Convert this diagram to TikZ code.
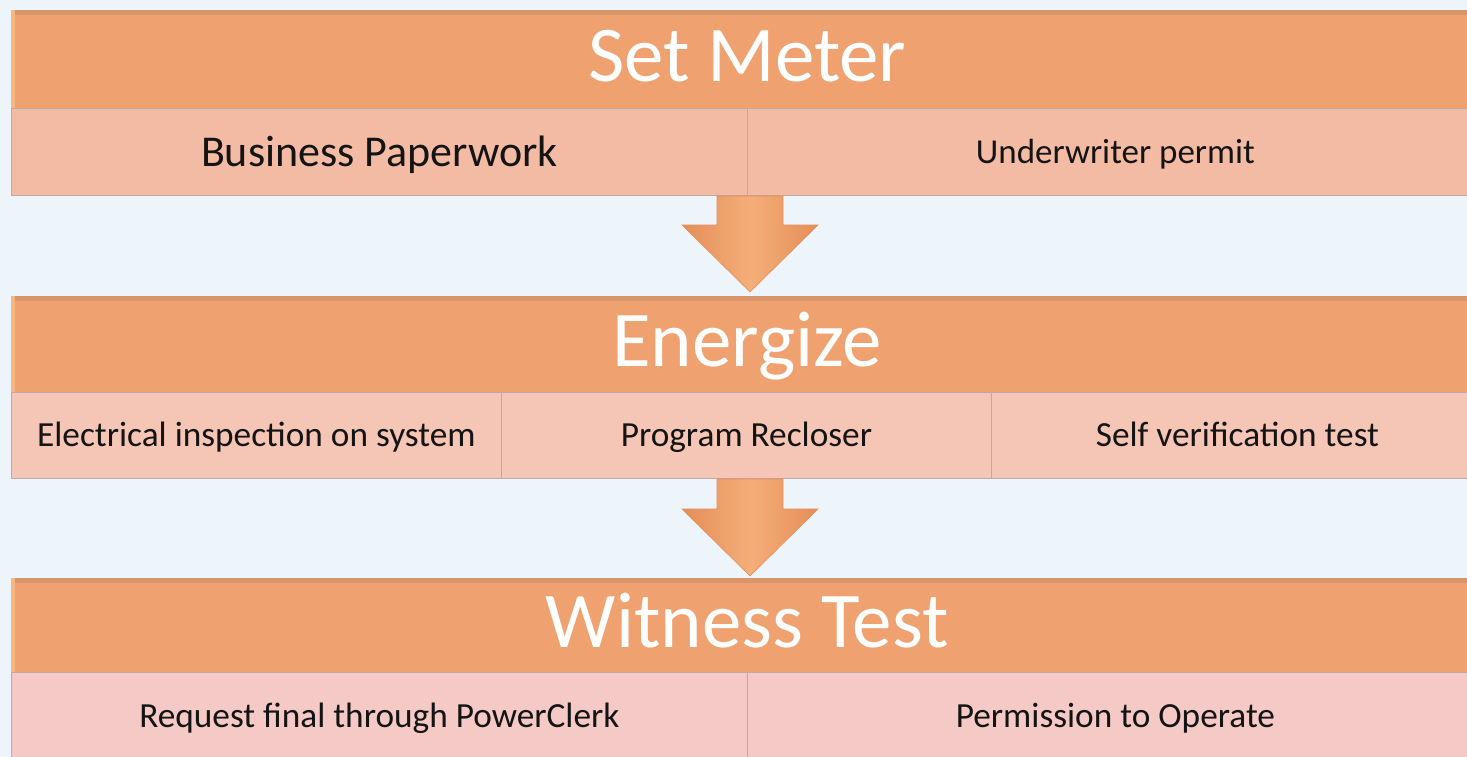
\documentclass[tikz,border=0pt]{standalone}
\usepackage{fontspec}
\setmainfont{Carlito}
\usetikzlibrary{calc}
\definecolor{bgc}{HTML}{EEF5FA}
\definecolor{barc}{HTML}{F0A170}
\definecolor{bartop}{HTML}{D8946A}
\definecolor{barleft}{HTML}{F7B780}
\definecolor{subA}{HTML}{F4BBA4}
\definecolor{subB}{HTML}{F5C5B5}
\definecolor{subC}{HTML}{F5C9C5}
\definecolor{edgec}{HTML}{BFA9A3}
\definecolor{arrc}{HTML}{F5AE78}
\definecolor{arrd}{HTML}{E48E58}
\tikzset{
  bar/.style={anchor=north west, inner sep=0pt, fill=barc, text=white,
    font=\fontsize{79}{82}\selectfont, minimum height=#1,
    text height=44pt, text depth=0pt},
  subbox/.style={anchor=north west, inner sep=0pt, draw=edgec, line width=0.8pt,
    text=black!92, minimum height=87pt, text height=22.7pt, text depth=0pt},
  subfont/.style={font=\fontsize{35.3}{38}\selectfont},
  blockarrow/.style={left color=arrd, right color=arrd, middle color=arrc,
    draw=arrd, line width=0.6pt, line join=miter},
}
\begin{document}
\begin{tikzpicture}[x=1pt,y=-1pt]
\useasboundingbox (0,0) rectangle (1467,757);
\clip (0,0) rectangle (1467,757);
\fill[bgc] (0,0) rectangle (1467,757);

% ---- row 1
\node[bar=98pt, minimum width=1472pt] (t1) at (11,10) {Set Meter};
\fill[bartop] (t1.north west) rectangle ($(t1.north east)+(0,5)$);
\fill[barleft] (t1.north west) rectangle ($(t1.south west)+(4,0)$);
\node[subbox, fill=subA, minimum width=736pt, font=\fontsize{44}{46}\selectfont, text height=28.3pt] (s11) at (11,108) {Business Paperwork};
\node[subbox, fill=subA, minimum width=736pt, font=\fontsize{35}{38}\selectfont] (s12) at (747,108) {Underwriter permit};

% ---- row 2
\node[bar=96pt, minimum width=1472pt] (t2) at (11,296) {Energize};
\fill[bartop] (t2.north west) rectangle ($(t2.north east)+(0,5)$);
\fill[barleft] (t2.north west) rectangle ($(t2.south west)+(4,0)$);
\node[subbox, fill=subB, subfont, minimum width=490pt, minimum height=86pt] (s21) at (11,392) {Electrical inspection on system};
\node[subbox, fill=subB, subfont, minimum width=490pt, minimum height=86pt] (s22) at (501,392) {Program Recloser};
\node[subbox, fill=subB, subfont, minimum width=492pt, minimum height=86pt] (s23) at (991,392) {Self verification test};

% ---- row 3
\node[bar=94pt, minimum width=1472pt] (t3) at (11,578) {Witness Test};
\fill[bartop] (t3.north west) rectangle ($(t3.north east)+(0,5)$);
\fill[barleft] (t3.north west) rectangle ($(t3.south west)+(4,0)$);
\node[subbox, fill=subC, subfont, minimum width=736pt] (s31) at (11,672) {Request final through PowerClerk};
\node[subbox, fill=subC, subfont, minimum width=736pt] (s32) at (747,672) {Permission to Operate};

% ---- arrows
\coordinate (a1s) at (750,196);
\coordinate (a1e) at (750,292);
\coordinate (a2s) at (750,479);
\coordinate (a2e) at (750,576);
\foreach \s/\e in {a1s/a1e, a2s/a2e}{
  \draw[blockarrow] ($(\s)+(-33,0)$) -- ($(\s)+(33,0)$) -- ($(\e)+(33,-67)$) -- ($(\e)+(68,-67)$)
    -- (\e) -- ($(\e)+(-68,-67)$) -- ($(\e)+(-33,-67)$) -- cycle;
}
\end{tikzpicture}
\end{document}
